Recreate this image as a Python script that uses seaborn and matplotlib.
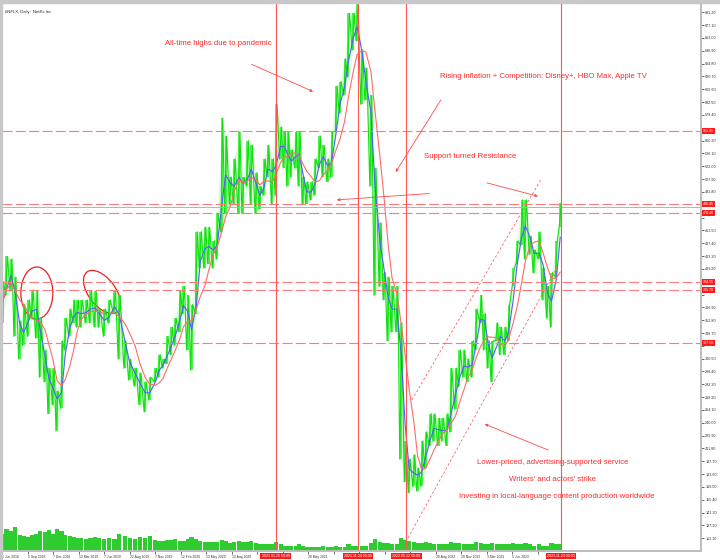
import numpy as np
import pandas as pd
import matplotlib
matplotlib.use("Agg")
import matplotlib.pyplot as plt
import matplotlib.transforms as mtransforms
from matplotlib.patches import Ellipse, Rectangle
import seaborn as sns

# terminal date labels, one every 64 bars
tick_dates = ["2018-06-06", "2018-09-05", "2018-12-07", "2019-03-13", "2019-06-07",
              "2019-08-22", "2019-11-07", "2020-02-12", "2020-05-13", "2020-08-13",
              "2020-11-12", "2021-02-16", "2021-05-28", "2021-08-30", "2021-11-30",
              "2022-02-24", "2022-05-26", "2022-08-29", "2022-11-29", "2023-03-03",
              "2023-06-05", "2023-09-05"]

# half-month samples (8th and 23rd), Jun 2018 .. Nov 2023
sample_dates = pd.date_range("2018-06-01", "2023-11-15", freq="SMS") + pd.Timedelta(days=7)

price_low = [
    350, 380, 385, 335, 310, 325, 335, 355, 333, 290, 285, 250, 260, 231,
    256, 320, 335, 350, 345, 345, 350, 350, 345, 345, 335, 350, 360, 310, 300, 287, 280, 260, 252, 265, 285, 290, 300, 305,
    315, 325, 340, 360, 320, 298, 360, 410, 410, 415, 410, 420, 450, 470, 480, 480, 470, 470, 500, 480, 470, 475, 490, 510,
    480, 490, 530, 520, 500, 510, 520, 500, 480, 480, 485, 490, 520, 510, 505, 510, 560, 580, 600, 620, 650, 660, 590, 595,
    500, 380, 390, 375, 330, 340, 340, 200, 175, 163, 170, 165, 170, 190, 215, 220, 215, 220, 215, 230, 255, 280, 290, 285,
    290, 320, 350, 320, 300, 285, 330, 315, 315, 330, 390, 415, 435, 420, 425, 405, 420, 375, 355, 345, 400, 455,
]
price_high = [
    395, 423, 420, 400, 352, 370, 375, 386, 385, 355, 320, 300, 300, 275,
    330, 355, 365, 375, 375, 375, 375, 385, 385, 365, 365, 375, 385, 380, 330, 310, 300, 295, 285, 290, 300, 315, 310, 335,
    345, 355, 385, 390, 380, 370, 450, 450, 455, 455, 440, 470, 575, 555, 510, 530, 560, 510, 550, 545, 515, 500, 530, 545,
    530, 590, 565, 560, 560, 540, 560, 560, 510, 505, 505, 530, 555, 545, 530, 560, 610, 615, 640, 690, 690, 701, 650, 630,
    600, 520, 460, 405, 400, 390, 390, 350, 220, 200, 205, 190, 220, 230, 250, 250, 245, 245, 250, 300, 300, 320, 320, 310,
    330, 365, 380, 360, 330, 330, 350, 345, 345, 370, 410, 440, 485, 485, 445, 430, 450, 410, 390, 405, 440, 482,
]
volume = [
    16, 20, 18, 22, 15, 14, 13, 15, 16, 18, 17, 19, 16, 20,
    18, 15, 14, 13, 12, 12, 11, 12, 13, 12, 11, 12, 11, 16, 14, 12, 11, 13, 12, 14, 10, 9, 9, 10,
    10, 11, 9, 9, 11, 13, 11, 9, 8, 8, 8, 8, 10, 9, 7, 8, 9, 8, 8, 9, 7, 6, 6, 6,
    6, 8, 6, 5, 5, 5, 5, 6, 5, 4, 4, 4, 4, 5, 4, 4, 5, 4, 4, 6, 5, 5, 5, 5,
    7, 11, 8, 7, 7, 6, 6, 12, 10, 9, 8, 7, 7, 8, 7, 6, 6, 6, 6, 8, 7, 7, 6, 6,
    6, 8, 7, 6, 6, 7, 6, 6, 6, 6, 7, 6, 6, 7, 6, 5, 6, 5, 5, 7, 6, 6,
]

level_lines = [561.05, 480.45, 470.40, 394.55, 385.70, 327.50]
last_price = 477.60
event_dates = ["2021-01-20", "2021-11-24", "2022-05-12", "2023-11-24"]

# trend channel anchors (date, price)
channel_lines = [
    (("2022-06-01", 265.2), ("2023-09-14", 506.9)),
    (("2022-05-18", 113.5), ("2023-11-09", 410.2)),
]

notes = [
    ("All-time highs due to pandemic", 0.310, 0.927),
    ("Rising inflation + Competition: Disney+, HBO Max, Apple TV", 0.774, 0.865),
    ("Support turned Resistance", 0.670, 0.719),
    ("Lower-priced, advertising-supported service", 0.788, 0.161),
    ("Writers' and actors' strike", 0.788, 0.131),
    ("Investing in local-language content production worldwide", 0.793, 0.100),
]
# arrows: tail (date, price) -> head (date, price)
arrows = [
    (("2020-10-23", 634.0), ("2021-06-15", 604.0)),
    (("2022-09-16", 594.8), ("2022-04-04", 515.6)),
    (("2022-08-05", 492.0), ("2021-09-10", 485.0)),
    (("2023-03-03", 503.7), ("2023-09-05", 489.0)),
    (("2023-10-11", 210.0), ("2023-02-23", 238.6)),
]


def bar_x(dates):
    """Map dates onto the terminal's bar axis (1 unit = one date label)."""
    d = pd.to_datetime(pd.Series(dates)).values.astype("datetime64[D]")
    t = pd.to_datetime(pd.Series(tick_dates)).values.astype("datetime64[D]")
    x = np.interp(d.astype(float), t.astype(float), np.arange(len(t)))
    tail = d > t[-1]
    x[tail] = len(t) - 1 + np.busday_count(t[-1], d[tail]) / 64
    return x


def main():
    sns.set_theme(style="white")
    plt.rcParams["font.family"] = ["Liberation Sans", "DejaVu Sans"]

    df = pd.DataFrame({"date": sample_dates, "low": price_low, "high": price_high, "vol": volume})
    df["x"] = bar_x(df["date"])
    df["mid"] = (df["low"] + df["high"]) / 2
    df["ma_fast"] = df["mid"].rolling(2, min_periods=1).mean()
    df["ma_slow"] = df["mid"].rolling(5, min_periods=1).mean()
    step = df["x"].diff().median()
    event_x = bar_x(event_dates)

    fig = plt.figure(figsize=(7.2, 5.6), dpi=100)
    fig.patches.append(Rectangle((0, 557 / 560), 1, 3 / 560, transform=fig.transFigure,
                                 color="#c8c8c8", zorder=0))
    fig.patches.append(Rectangle((0, 0), 2 / 720, 1, transform=fig.transFigure,
                                 color="#c8c8c8", zorder=0))
    ax = fig.add_axes([2 / 720, 9 / 560, 699 / 720, 548 / 560])
    ax.patch.set_visible(False)

    # volume histogram on its own scale at the bottom
    axv = ax.twinx()
    axv.bar(df["x"], df["vol"], width=step, color="#2ecc2e", linewidth=0)
    axv.set_ylim(0, max(volume) * 548 / 24)
    axv.set_axis_off()
    axv.set_zorder(ax.get_zorder() - 1)

    # price: range of each half-month plus a zigzag between its low and high
    zz_x = np.column_stack([df["x"] - step * 0.25, df["x"] + step * 0.25]).ravel()
    zz_y = np.column_stack([df["low"], df["high"]]).ravel()
    ax.fill_between(df["x"], df["low"], df["high"], color="#8cf78c", alpha=0.3, lw=0)
    ax.vlines(df["x"], df["low"], df["high"], color="#22f022", lw=1.1)
    ax.plot(zz_x, zz_y, color="#10e010", lw=0.8)
    sns.lineplot(data=df, x="x", y="ma_fast", ax=ax, color="#5a5aff", lw=0.8)
    sns.lineplot(data=df, x="x", y="ma_slow", ax=ax, color="#ff6a6a", lw=0.8)

    for v in level_lines:
        ax.axhline(v, color="#ff7a7a", lw=0.8, dashes=(9, 3))
        ax.text(1.003, v, f"{v:.2f}", transform=ax.get_yaxis_transform(), fontsize=2.6,
                color="white", va="center", ha="left", clip_on=False, zorder=6,
                bbox=dict(facecolor="#ff1a1a", edgecolor="none", pad=0.8))
    ax.axhline(last_price, color="#a9b4c6", lw=0.7)

    for d, x in zip(event_dates, event_x):
        ax.axvline(x, color="#ff5555", lw=0.8)
        ax.text(x, -0.006, pd.Timestamp(d).strftime("%Y.%m.%d 00:00"),
                transform=ax.get_xaxis_transform(), fontsize=2.6, color="white",
                ha="center", va="top", clip_on=False, zorder=6,
                bbox=dict(facecolor="#ff1a1a", edgecolor="none", pad=0.8))

    for (d0, p0), (d1, p1) in channel_lines:
        xs = bar_x([d0, d1])
        ax.plot(xs, [p0, p1], color="#ff6060", lw=0.6, dashes=(3, 2.5))

    # the two failed breakouts near the old resistance
    for d, p, w, h, ang in [("2018-10-09", 382.7, 0.32, 0.52, 0), ("2019-05-31", 383.8, 0.50, 0.27, -53)]:
        x = bar_x([d])[0]
        tr = fig.dpi_scale_trans + mtransforms.ScaledTranslation(x, p, ax.transData)
        ax.add_patch(Ellipse((0, 0), w, h, angle=ang, transform=tr, fill=False,
                             edgecolor="#e82020", lw=0.9))

    for text, fx, fy in notes:
        ax.text(fx, fy, text, transform=ax.transAxes, color="#ff2a2a", fontsize=5.6,
                ha="center", va="center")
    for (d0, p0), (d1, p1) in arrows:
        x0, x1 = bar_x([d0, d1])
        ax.annotate("", xy=(x1, p1), xytext=(x0, p0),
                    arrowprops=dict(arrowstyle="-|>", color="#ff4a4a", lw=0.6,
                                    mutation_scale=4, shrinkA=0, shrinkB=0))

    ax.text(0.004, 0.988, "#NFLX, Daily:  Netflix Inc", transform=ax.transAxes,
            fontsize=3.0, color="#222222", va="top")

    ax.set_xlim(0, 699 / 25.52)
    ax.set_ylim(99.1, 701.4)

    # date labels hidden where a line label sits on top of them
    tick_x = np.arange(len(tick_dates))
    x_labels = []
    for tx, t in zip(tick_x, pd.to_datetime(tick_dates)):
        covered = np.any((tx + 0.6 > event_x - 0.65) & (tx < event_x + 0.65))
        x_labels.append("" if covered else f"{t.day} {t.strftime('%b %Y')}")
    ax.set_xticks(tick_x)
    ax.set_xticklabels(x_labels, ha="left", fontsize=2.4)

    price_ticks = np.arange(113.10, 691.3, 14.10)
    y_labels = ["" if np.min(np.abs(np.array(level_lines) - v)) < 7 else f"{v:.2f}"
                for v in price_ticks]
    ax.yaxis.tick_right()
    ax.set_yticks(price_ticks)
    ax.set_yticklabels(y_labels, fontsize=2.7)
    ax.tick_params(axis="both", length=2, width=0.5, pad=1, colors="#333333",
                   direction="out", bottom=True, right=True)
    ax.set_xlabel("")
    ax.set_ylabel("")
    for side in ["top", "left"]:
        ax.spines[side].set_visible(False)
    for side in ["right", "bottom"]:
        ax.spines[side].set_color("#bdbdbd")
        ax.spines[side].set_linewidth(1.4)

    fig.savefig("out.png", dpi=100)
    plt.close(fig)


if __name__ == "__main__":
    main()
